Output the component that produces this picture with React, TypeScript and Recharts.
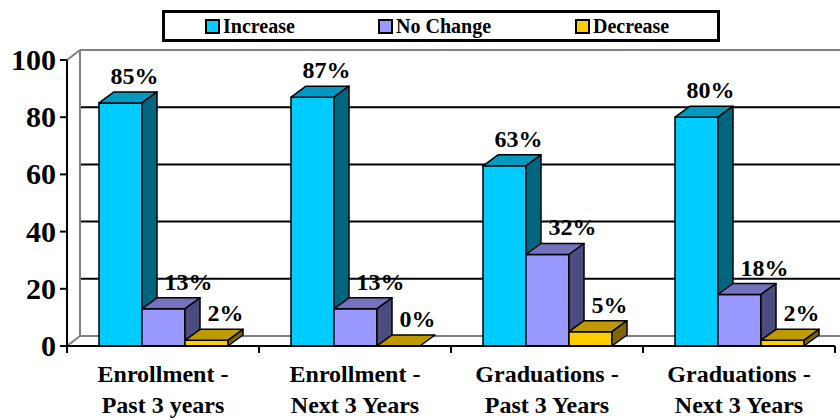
import { BarChart, Bar, XAxis, YAxis, CartesianGrid, LabelList } from "recharts"

// survey answers per category (percent)
const categoryTop = ["Enrollment -", "Enrollment -", "Graduations -", "Graduations -"]
const categoryBottom = ["Past 3 years", "Next 3 Years", "Past 3 Years", "Next 3 Years"]
const increase = [85, 87, 63, 80]
const noChange = [13, 13, 32, 18]
const decrease = [2, 0, 5, 2]
const yTicks = [0, 20, 40, 60, 80, 100]

const data = categoryTop.map((top, i) => ({
  name: top + " " + categoryBottom[i],
  top,
  bottom: categoryBottom[i],
  increase: increase[i],
  noChange: noChange[i],
  decrease: decrease[i]
}))

const FONT = '"Liberation Serif"'

// depth of the 3d effect
const BAR_DX = 15
const BAR_DY = 11
const WALL_DX = 13
const WALL_DY = 10

const series = [
  { key: "increase", name: "Increase", front: "#00CCFF", top: "#0099C0", side: "#00667F", labelShift: 14 },
  { key: "noChange", name: "No Change", front: "#9999FF", top: "#7373BF", side: "#4C4C80", labelShift: 25 },
  { key: "decrease", name: "Decrease", front: "#FFCC00", top: "#BF9900", side: "#806600", labelShift: 19 }
]

function Box3D(props: any) {
  const { x, y, width, height, front, top, side } = props
  if (x == null || y == null) return null
  const w = width
  const h = Math.max(height || 0, 0)
  return (
    <g stroke="#000" strokeWidth={1.5} strokeLinejoin="round">
      {h > 0 && <rect x={x} y={y} width={w} height={h} fill={front} />}
      <polygon
        points={`${x},${y} ${x + BAR_DX},${y - BAR_DY} ${x + w + BAR_DX},${y - BAR_DY} ${x + w},${y}`}
        fill={top}
      />
      {h > 0 && (
        <polygon
          points={`${x + w},${y} ${x + w + BAR_DX},${y - BAR_DY} ${x + w + BAR_DX},${y + h - BAR_DY} ${x + w},${y + h}`}
          fill={side}
        />
      )}
    </g>
  )
}

function makeLabel(shift: number) {
  return (props: any) => {
    const vb = props.viewBox || props
    const x = vb.x ?? props.x
    const y = vb.y ?? props.y
    const width = vb.width ?? props.width
    return (
      <text
        x={x + width / 2 + shift}
        y={y - 19}
        textAnchor="middle"
        style={{ fontFamily: FONT, fontWeight: "bold", fontSize: 24 }}
        fill="#000"
      >
        {props.value}%
      </text>
    )
  }
}

function CategoryTick(props: any) {
  const { x, y, payload, index } = props
  const half = payload.offset ?? 96
  const row = data[index] || data.find(d => d.name === payload.value)
  const textStyle = { fontFamily: FONT, fontWeight: "bold", fontSize: 24 }
  return (
    <g>
      <line x1={x - half} x2={x - half} y1={y - 8} y2={y - 1} stroke="#000" strokeWidth={2} />
      {index === data.length - 1 && (
        <line x1={x + half} x2={x + half} y1={y - 8} y2={y - 1} stroke="#000" strokeWidth={2} />
      )}
      <text x={x} y={y + 28} textAnchor="middle" style={textStyle} fill="#000">
        {row?.top}
      </text>
      <text x={x} y={y + 59} textAnchor="middle" style={textStyle} fill="#000">
        {row?.bottom}
      </text>
    </g>
  )
}

function ValueTick(props: any) {
  const { x, y, payload } = props
  return (
    <text
      x={x}
      y={y}
      dy={10}
      textAnchor="end"
      style={{ fontFamily: FONT, fontWeight: "bold", fontSize: 30 }}
      fill="#000"
    >
      {payload.value}
    </text>
  )
}

// gridlines sit on the back wall, shifted by the wall depth
function WallLine(props: any) {
  const { x1, x2, y1, index, key } = props
  const edge = index === 0 || index === yTicks.length - 1
  return (
    <line
      key={key}
      x1={x1 + WALL_DX}
      x2={x2 + WALL_DX}
      y1={y1 - WALL_DY}
      y2={y1 - WALL_DY}
      stroke={edge ? "#808080" : "#000"}
      strokeWidth={2}
    />
  )
}

function WallSide(props: any) {
  const { x1, y1, y2, key } = props
  return (
    <g key={key} stroke="#808080" strokeWidth={2}>
      <line x1={x1 + WALL_DX} x2={x1 + WALL_DX} y1={y1 - WALL_DY} y2={y2 - WALL_DY} />
      <line x1={x1} x2={x1 + WALL_DX} y1={y1} y2={y1 - WALL_DY} />
      <line x1={x1} x2={x1 + WALL_DX} y1={y2} y2={y2 - WALL_DY} />
    </g>
  )
}

function LegendBox() {
  return (
    <div
      style={{
        position: "absolute",
        left: 162,
        top: 10,
        width: 552,
        height: 26,
        border: "3px solid #000",
        background: "#fff"
      }}
    >
      {series.map((s, i) => (
        <div
          key={s.key}
          style={{
            position: "absolute",
            left: [40, 213, 410][i],
            top: 1,
            display: "flex",
            alignItems: "center",
            fontFamily: FONT,
            fontWeight: "bold",
            fontSize: 20,
            lineHeight: "24px",
            whiteSpace: "nowrap"
          }}
        >
          <span
            style={{
              display: "inline-block",
              width: 11,
              height: 11,
              border: "2px solid #000",
              background: s.front,
              marginRight: 3
            }}
          />
          {s.name}
        </div>
      ))}
    </div>
  )
}

export default function App() {
  return (
    <div style={{ position: "absolute", left: 0, top: 0, width: 840, height: 419, background: "#fff" }}>
      <BarChart
        width={840}
        height={419}
        data={data}
        margin={{ top: 60, right: 5, bottom: 0, left: 0 }}
        barGap={0}
        barSize={43}
      >
        <CartesianGrid
          horizontal={WallLine}
          vertical={WallSide}
          verticalCoordinatesGenerator={({ offset }: any) => [offset.left]}
        />
        <XAxis
          dataKey="name"
          height={73}
          axisLine={{ stroke: "#000", strokeWidth: 2 }}
          tickLine={false}
          tick={<CategoryTick />}
          interval={0}
        />
        <YAxis
          width={67}
          domain={[0, 100]}
          ticks={yTicks}
          interval={0}
          axisLine={{ stroke: "#000", strokeWidth: 2 }}
          tickLine={{ stroke: "#000", strokeWidth: 2 }}
          tickSize={7}
          tickMargin={4}
          tick={<ValueTick />}
        />
        {series.map(s => (
          <Bar
            key={s.key}
            dataKey={s.key}
            name={s.name}
            fill={s.front}
            isAnimationActive={false}
            shape={(p: any) => <Box3D {...p} front={s.front} top={s.top} side={s.side} />}
          >
            <LabelList dataKey={s.key} content={makeLabel(s.labelShift)} />
          </Bar>
        ))}
      </BarChart>
      <LegendBox />
    </div>
  )
}
